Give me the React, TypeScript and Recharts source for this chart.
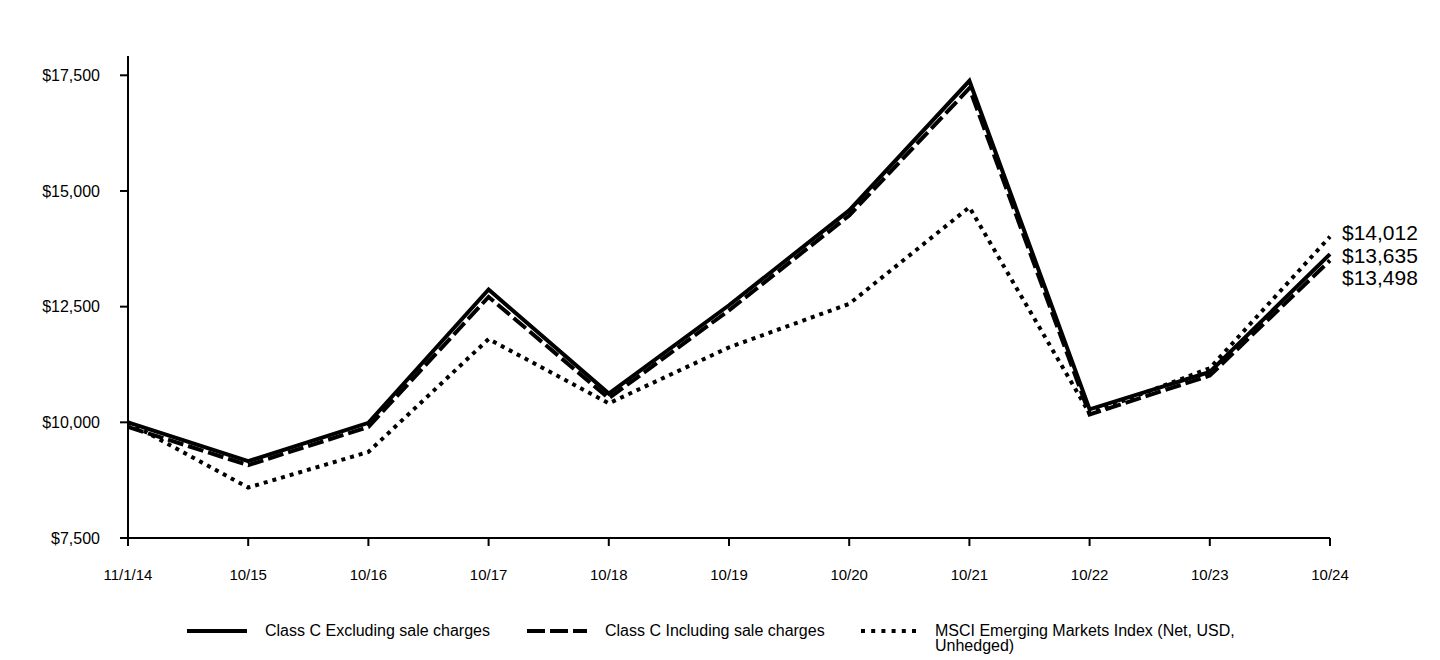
import { LineChart, Line, XAxis, YAxis } from 'recharts';

const periods = ['11/1/14', '10/15', '10/16', '10/17', '10/18', '10/19', '10/20', '10/21', '10/22', '10/23', '10/24'];
const classCExcl = [10000, 9160, 9990, 12870, 10620, 12530, 14580, 17380, 10280, 11090, 13635];
const classCIncl = [9900, 9075, 9900, 12710, 10520, 12420, 14470, 17220, 10170, 11010, 13498];
const msciEm = [10000, 8590, 9360, 11800, 10410, 11620, 12560, 14650, 10190, 11170, 14012];
const yTicks = [7500, 10000, 12500, 15000, 17500];

const FONT = '"Liberation Sans", Arial, sans-serif';

const chartData = periods.map((p, i) => ({
  period: p,
  excl: classCExcl[i],
  incl: classCIncl[i],
  msci: msciEm[i],
}));

const money = (v: number) => `$${v.toLocaleString('en-US')}`;

// end-of-line value labels, stacked to the right of the last point
const endLabel = (dy: number) => (props: any) => {
  const { x, y, index, value } = props;
  if (index !== periods.length - 1) return null;
  return (
    <text x={x + 12} y={y + dy} fontSize={21} fontFamily={FONT} fill="#000" dominantBaseline="central">
      {money(value)}
    </text>
  );
};

const legendItems = [
  { name: 'Class C Excluding sale charges', dash: undefined, left: 187, width: 60 },
  { name: 'Class C Including sale charges', dash: '18 5', left: 527, width: 60 },
  { name: 'MSCI Emerging Markets Index (Net, USD, Unhedged)', dash: '4 6.2', left: 861, width: 56 },
];

export default function App() {
  return (
    <div style={{ position: 'absolute', left: 0, top: 0, width: 1440, height: 660, background: '#fff' }}>
      <LineChart width={1440} height={660} data={chartData} margin={{ top: 56, right: 110, bottom: 92, left: 0 }}>
        <XAxis
          dataKey="period"
          height={30}
          stroke="#000"
          strokeWidth={2}
          tickSize={8}
          tickMargin={23}
          tick={{ fontSize: 15, fontFamily: FONT, fill: '#000' }}
          interval={0}
        />
        <YAxis
          width={128}
          domain={[7500, 17917]}
          ticks={yTicks}
          tickFormatter={money}
          stroke="#000"
          strokeWidth={2}
          tickSize={8}
          tickMargin={20}
          tick={{ fontSize: 16, fontFamily: FONT, fill: '#000' }}
          allowDataOverflow
        />
        <Line
          dataKey="msci"
          stroke="#000"
          strokeWidth={4}
          strokeDasharray="4 5"
          dot={false}
          activeDot={false}
          isAnimationActive={false}
          label={endLabel(-4)}
        />
        <Line
          dataKey="excl"
          stroke="#000"
          strokeWidth={4}
          dot={false}
          activeDot={false}
          isAnimationActive={false}
          label={endLabel(1)}
        />
        <Line
          dataKey="incl"
          stroke="#000"
          strokeWidth={4}
          strokeDasharray="16 5"
          dot={false}
          activeDot={false}
          isAnimationActive={false}
          label={endLabel(17)}
        />
      </LineChart>
      {legendItems.map((item) => (
        <div key={item.name}>
          <svg style={{ position: 'absolute', left: item.left, top: 629 }} width={item.width} height={4}>
            <line x1={0} y1={2} x2={item.width} y2={2} stroke="#000" strokeWidth={4} strokeDasharray={item.dash} />
          </svg>
          <div
            style={{
              position: 'absolute',
              left: item.left + item.width + 18,
              top: 624,
              maxWidth: 320,
              fontFamily: FONT,
              fontSize: 16,
              lineHeight: '14.5px',
              color: '#000',
            }}
          >
            {item.name}
          </div>
        </div>
      ))}
    </div>
  );
}
